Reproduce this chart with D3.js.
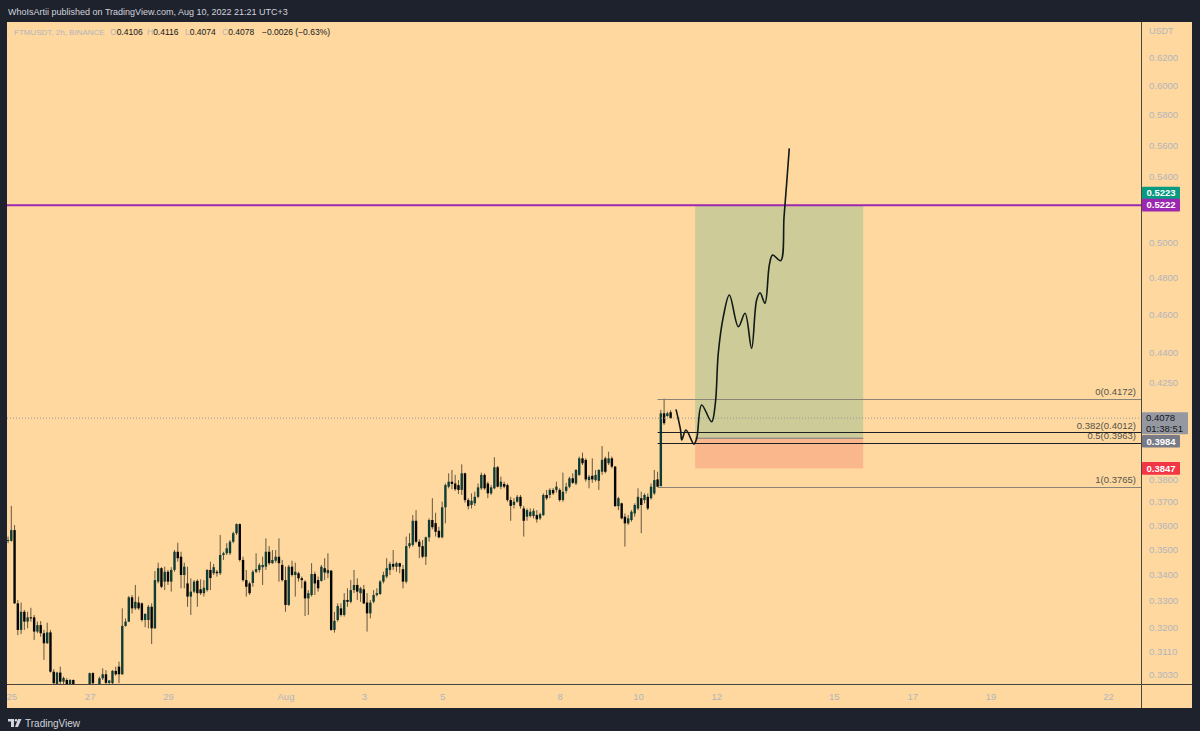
<!DOCTYPE html>
<html>
<head>
<meta charset="utf-8">
<script src="https://cdn.jsdelivr.net/npm/d3@7"></script>
<style>
  body { margin: 0; background: #1e222d; }
  svg { display: block; font-family: "Liberation Sans", Arial, sans-serif; }
</style>
</head>
<body>
<svg id="chart"></svg>
<script>
// FTMUSDT 2h candles, first bar Jul 24 22:00, one bar every 2 hours
const startTime = Date.UTC(2022, 6, 24, 22)
const barHours = 2
// [open, high, low, close]
const ohlc = [
  [.3540,.3554,.3527,.3540],[.3537,.3683,.3533,.3581],[.3581,.3602,.3287,.3289],[.3289,.3302,.3170,.3189],
  [.3189,.3292,.3174,.3257],[.3257,.3264,.3189,.3220],[.3220,.3257,.3195,.3236],[.3236,.3272,.3220,.3232],
  [.3236,.3245,.3152,.3183],[.3183,.3220,.3177,.3207],[.3207,.3222,.3164,.3177],[.3177,.3189,.3080,.3140],
  [.3140,.3216,.3138,.3180],[.3180,.3189,.3035,.3038],[.3038,.3047,.2974,.2998],[.2992,.3038,.2981,.3035],
  [.3035,.3056,.2988,.3003],[.3003,.3021,.2981,.3016],[.3009,.3015,.2974,.2995],[.2995,.3012,.2974,.3009],
  [.3009,.3011,.2967,.2988],[.2981,.2988,.2950,.2967],[.2967,.2978,.2940,.2957],[.2957,.2981,.2947,.2974],
  [.2974,.2992,.2960,.2988],[.2974,.3035,.2970,.3033],[.3033,.3036,.2981,.2998],[.2992,.2995,.2967,.2981],
  [.2981,.3021,.2974,.3015],[.3015,.3050,.3009,.3029],[.3029,.3044,.2988,.2999],[.2999,.3009,.2981,.3007],
  [.2998,.3044,.2992,.3041],[.3041,.3056,.3024,.3029],[.3056,.3074,.2998,.3029],[.3029,.3270,.3027,.3204],
  [.3204,.3232,.3201,.3220],[.3220,.3317,.3218,.3312],[.3312,.3321,.3251,.3270],[.3270,.3360,.3264,.3295],
  [.3292,.3315,.3264,.3270],[.3289,.3292,.3220,.3226],[.3226,.3251,.3199,.3249],[.3226,.3283,.3195,.3276],
  [.3276,.3289,.3137,.3195],[.3195,.3415,.3193,.3379],[.3373,.3448,.3366,.3426],[.3426,.3430,.3347,.3353],
  [.3373,.3432,.3340,.3412],[.3412,.3419,.3360,.3373],[.3373,.3430,.3334,.3419],[.3419,.3499,.3412,.3492],
  [.3492,.3529,.3452,.3466],[.3472,.3492,.3347,.3399],[.3399,.3448,.3347,.3432],[.3366,.3432,.3276,.3315],
  [.3315,.3386,.3245,.3334],[.3334,.3379,.3328,.3373],[.3376,.3382,.3276,.3328],[.3343,.3382,.3321,.3328],
  [.3328,.3379,.3315,.3349],[.3340,.3422,.3334,.3419],[.3419,.3452,.3340,.3387],[.3406,.3443,.3399,.3430],
  [.3412,.3419,.3393,.3406],[.3406,.3561,.3399,.3479],[.3479,.3492,.3459,.3486],[.3486,.3527,.3479,.3506],
  [.3486,.3540,.3479,.3533],[.3533,.3574,.3527,.3568],[.3568,.3609,.3561,.3606],[.3606,.3609,.3452,.3459],
  [.3459,.3472,.3373,.3379],[.3379,.3419,.3315,.3353],[.3366,.3373,.3321,.3328],[.3368,.3419,.3353,.3412],
  [.3412,.3486,.3406,.3422],[.3419,.3446,.3409,.3439],[.3430,.3472,.3360,.3439],[.3432,.3547,.3419,.3492],
  [.3492,.3515,.3439,.3446],[.3446,.3499,.3443,.3459],[.3456,.3499,.3448,.3472],[.3472,.3547,.3373,.3446],
  [.3439,.3459,.3373,.3379],[.3379,.3432,.3257,.3283],[.3283,.3439,.3279,.3432],[.3432,.3456,.3393,.3399],
  [.3399,.3448,.3315,.3412],[.3406,.3412,.3373,.3386],[.3386,.3393,.3347,.3379],[.3373,.3379,.3241,.3308],
  [.3308,.3340,.3245,.3328],[.3321,.3446,.3315,.3403],[.3403,.3412,.3321,.3366],[.3379,.3393,.3334,.3347],
  [.3376,.3439,.3373,.3432],[.3426,.3466,.3379,.3409],[.3406,.3486,.3386,.3419],[.3416,.3419,.3186,.3189],
  [.3189,.3257,.3179,.3223],[.3226,.3289,.3220,.3279],[.3270,.3289,.3239,.3245],[.3245,.3328,.3239,.3302],
  [.3302,.3347,.3276,.3295],[.3295,.3379,.3289,.3340],[.3340,.3419,.3328,.3360],[.3360,.3386,.3302,.3334],
  [.3328,.3353,.3295,.3347],[.3343,.3360,.3286,.3289],[.3292,.3328,.3183,.3251],[.3251,.3302,.3232,.3292],
  [.3295,.3340,.3289,.3321],[.3321,.3347,.3315,.3328],[.3325,.3379,.3321,.3373],[.3373,.3412,.3366,.3399],
  [.3393,.3466,.3386,.3426],[.3419,.3452,.3399,.3443],[.3443,.3499,.3419,.3432],[.3432,.3452,.3412,.3446],
  [.3446,.3448,.3406,.3432],[.3422,.3439,.3347,.3373],[.3373,.3554,.3366,.3515],[.3515,.3568,.3506,.3527],
  [.3520,.3644,.3513,.3620],[.3620,.3665,.3527,.3533],[.3533,.3543,.3466,.3513],[.3515,.3540,.3466,.3472],
  [.3472,.3554,.3439,.3551],[.3551,.3630,.3533,.3623],[.3623,.3716,.3584,.3593],[.3610,.3654,.3554,.3574],
  [.3578,.3595,.3547,.3551],[.3551,.3701,.3547,.3677],[.3677,.3780,.3609,.3773],[.3766,.3825,.3759,.3788],
  [.3788,.3840,.3755,.3778],[.3780,.3818,.3748,.3755],[.3773,.3795,.3734,.3752],[.3752,.3865,.3730,.3825],
  [.3825,.3828,.3697,.3708],[.3708,.3716,.3668,.3682],[.3687,.3737,.3672,.3705],[.3694,.3744,.3683,.3722],
  [.3722,.3780,.3716,.3763],[.3759,.3828,.3752,.3818],[.3818,.3825,.3752,.3759],[.3780,.3788,.3716,.3737],
  [.3737,.3773,.3730,.3763],[.3759,.3897,.3755,.3852],[.3852,.3858,.3763,.3766],[.3766,.3810,.3755,.3788],
  [.3778,.3788,.3759,.3766],[.3773,.3780,.3701,.3708],[.3708,.3722,.3620,.3683],[.3687,.3716,.3672,.3701],
  [.3701,.3730,.3697,.3722],[.3722,.3730,.3672,.3682],[.3672,.3683,.3554,.3620],[.3637,.3672,.3620,.3665],
  [.3640,.3672,.3634,.3658],[.3640,.3672,.3630,.3662],[.3644,.3665,.3612,.3626],[.3630,.3654,.3623,.3648],
  [.3644,.3737,.3640,.3730],[.3730,.3752,.3708,.3716],[.3730,.3759,.3716,.3752],[.3752,.3760,.3730,.3737],
  [.3752,.3788,.3740,.3766],[.3752,.3759,.3701,.3708],[.3708,.3828,.3701,.3744],[.3748,.3783,.3737,.3766],
  [.3766,.3810,.3759,.3803],[.3803,.3825,.3778,.3783],[.3780,.3843,.3773,.3840],[.3818,.3900,.3814,.3892],
  [.3892,.3918,.3862,.3870],[.3885,.3892,.3788,.3798],[.3795,.3818,.3759,.3810],[.3814,.3892,.3783,.3798],
  [.3795,.3840,.3788,.3818],[.3792,.3843,.3752,.3840],[.3832,.3948,.3818,.3885],[.3892,.3900,.3825,.3832],
  [.3870,.3922,.3862,.3892],[.3892,.3900,.3847,.3855],[.3855,.3858,.3679,.3682],[.3682,.3722,.3665,.3716],
  [.3694,.3697,.3626,.3630],[.3637,.3651,.3513,.3609],[.3609,.3644,.3602,.3630],[.3623,.3665,.3616,.3658],
  [.3651,.3694,.3637,.3687],[.3672,.3759,.3665,.3722],[.3716,.3744,.3568,.3687],[.3708,.3737,.3694,.3730],
  [.3722,.3737,.3665,.3672],[.3716,.3780,.3710,.3766],[.3737,.3840,.3730,.3795],[.3798,.3832,.3765,.3766],
  [.3768,.4117,.3770,.4101],[.4101,.4172,.4046,.4054],[.4088,.4109,.4085,.4101],[.4106,.4116,.4074,.4078]
]

// axes (ticks hidden behind the price labels are left out)
const timeTicks = ["2022-07-25","2022-07-27","2022-07-29","2022-08-01","2022-08-03","2022-08-05","2022-08-08",
  "2022-08-10","2022-08-12","2022-08-15","2022-08-17","2022-08-19","2022-08-22"]
const timeTickLabels = ["25","27","29","Aug","3","5","8","10","12","15","17","19","22"]
const priceTicks = [0.62,0.60,0.58,0.56,0.54,0.50,0.48,0.46,0.44,0.425,0.38,0.37,0.36,0.35,0.34,0.33,0.32,0.311,0.303]

// drawings
const resistance = 0.5222
const lastPrice = 0.4078
const fibStart = "2022-08-10T12:00:00Z"
const fibLevels = ["0", "0.382", "0.5", "1"]
const fibPrices = [0.4172, 0.4012, 0.3963, 0.3765]
const positionStart = "2022-08-11T11:00:00Z"
const positionEnd = "2022-08-15T18:00:00Z"
const entryPrice = 0.3984
const targetPrice = 0.5222
const stopPrice = 0.3847
// hand drawn projection: hours after Aug 10 00:00 and price
const pathHours = [23.3,26.1,26.8,29.4,34.3,36.0,39.0,45.1,47.4,49.2,52.3,56.0,61.5,65.6,69.6,72.7,74.8,77.8,80.5,82.5,87.4,89.5,91.1,92.7]
const pathPrices = [.4120,.4022,.3976,.4022,.3957,.3984,.4141,.4061,.4149,.4397,.4588,.4705,.4535,.4606,.4422,.4678,.4717,.4660,.4872,.4928,.4896,.5152,.5356,.5578]

const W = 1200, H = 731
const pane = {left: 7, top: 22, right: 1141, bottom: 684}
const axisRight = 1192, axisBottom = 708
const bg = "#fed89e"
const axisText = "#b2b5be"

const svg = d3.select("#chart").attr("width", W).attr("height", H)

const x = d3.scaleUtc().domain([new Date("2022-07-25T00:00:00Z"), new Date("2022-08-22T00:00:00Z")]).range([11.3, 1108])
const y = d3.scaleLog().domain([0.303, 0.62]).range([674, 57.3])

// chart background
svg.append("rect").attr("x", pane.left).attr("y", pane.top)
  .attr("width", axisRight - pane.left).attr("height", axisBottom - pane.top).attr("fill", bg)

const defs = svg.append("defs")
defs.append("clipPath").attr("id", "pane-clip").append("rect")
  .attr("x", pane.left).attr("y", pane.top).attr("width", pane.right - pane.left).attr("height", pane.bottom - pane.top)
defs.append("clipPath").attr("id", "time-clip").append("rect")
  .attr("x", pane.left).attr("y", pane.bottom).attr("width", pane.right - pane.left).attr("height", axisBottom - pane.bottom)

const plot = svg.append("g").attr("clip-path", "url(#pane-clip)")

// long position tool
const px0 = x(new Date(positionStart)), px1 = x(new Date(positionEnd))
plot.append("rect").attr("x", px0).attr("width", px1 - px0)
  .attr("y", y(targetPrice)).attr("height", y(entryPrice) - y(targetPrice))
  .attr("fill", "rgba(8,153,129,0.2)")
plot.append("rect").attr("x", px0).attr("width", px1 - px0)
  .attr("y", y(entryPrice)).attr("height", y(stopPrice) - y(entryPrice))
  .attr("fill", "rgba(242,54,69,0.2)")
plot.append("line").attr("x1", px0).attr("x2", px1)
  .attr("y1", y(entryPrice)).attr("y2", y(entryPrice))
  .attr("stroke", "#787b86").attr("stroke-width", 1)

// candles
const bars = ohlc.map((d, i) => ({t: new Date(startTime + i * barHours * 3600e3), o: d[0], h: d[1], l: d[2], c: d[3]}))
plot.selectAll(".wick").data(bars).join("line").attr("class", "wick")
  .attr("x1", d => x(d.t)).attr("x2", d => x(d.t))
  .attr("y1", d => y(d.h)).attr("y2", d => y(d.l))
  .attr("stroke", "rgba(0,0,0,0.6)").attr("stroke-width", 1)
plot.selectAll(".body").data(bars).join("rect").attr("class", "body")
  .attr("x", d => x(d.t) - 1.2).attr("width", 2.4)
  .attr("y", d => y(Math.max(d.o, d.c)))
  .attr("height", d => Math.max(1, Math.abs(y(d.o) - y(d.c))))
  .attr("fill", d => d.c >= d.o ? "#0f3d36" : "#050505")

// last price dotted line
plot.append("line").attr("x1", pane.left).attr("x2", pane.right)
  .attr("y1", y(lastPrice)).attr("y2", y(lastPrice))
  .attr("stroke", "#9598a1").attr("stroke-dasharray", "1,2")

// resistance line
plot.append("line").attr("x1", pane.left).attr("x2", pane.right)
  .attr("y1", y(resistance)).attr("y2", y(resistance))
  .attr("stroke", "#9c27b0").attr("stroke-width", 2)

// fibonacci retracement
const fx = x(new Date(fibStart))
const fibColors = ["#8a8478", "#1c1f26", "#1c1f26", "#8a8478"]
fibPrices.forEach((p, i) => {
  plot.append("line").attr("x1", fx).attr("x2", pane.right)
    .attr("y1", Math.round(y(p)) + 0.5).attr("y2", Math.round(y(p)) + 0.5)
    .attr("stroke", fibColors[i]).attr("stroke-width", 1)
  plot.append("text").attr("x", 1136).attr("y", y(p) - 3.5)
    .attr("text-anchor", "end").attr("font-size", 9.5).attr("fill", "#55534d")
    .text(`${fibLevels[i]}(${p.toFixed(4)})`)
})

// projection drawing
const proj = pathHours.map((h, i) => [x(new Date(Date.UTC(2022, 7, 10) + h * 3600e3)), y(pathPrices[i])])
plot.append("path").attr("d", d3.line().curve(d3.curveCatmullRom.alpha(0.5))(proj))
  .attr("fill", "none").attr("stroke", "#101a16").attr("stroke-width", 1.6)

// separators
svg.append("line").attr("x1", pane.right + 0.5).attr("x2", pane.right + 0.5).attr("y1", pane.top).attr("y2", axisBottom)
  .attr("stroke", "#4a473f")
svg.append("line").attr("x1", pane.left).attr("x2", axisRight).attr("y1", pane.bottom + 0.5).attr("y2", pane.bottom + 0.5)
  .attr("stroke", "#4a473f")

// price axis
const yAxis = svg.append("g").attr("transform", `translate(${pane.right + 2},0)`)
  .call(d3.axisRight(y).tickValues(priceTicks).tickFormat(d3.format(".4f")).tickSize(0).tickPadding(6))
yAxis.select(".domain").remove()
yAxis.selectAll("text").attr("font-size", 9.5).attr("fill", axisText).attr("font-family", "Liberation Sans, Arial, sans-serif")
svg.append("text").attr("x", pane.right + 8).attr("y", 34).attr("font-size", 9).attr("fill", axisText).text("USDT")

// time axis
const xAxis = svg.append("g").attr("clip-path", "url(#time-clip)").append("g")
  .attr("transform", `translate(0,${pane.bottom})`)
  .call(d3.axisBottom(x).tickValues(timeTicks.map(d => new Date(d + "T00:00:00Z")))
    .tickFormat((d, i) => timeTickLabels[i]).tickSize(0).tickPadding(9))
xAxis.select(".domain").remove()
xAxis.selectAll("text").attr("font-size", 9.5).attr("fill", axisText).attr("font-family", "Liberation Sans, Arial, sans-serif")

// price labels on the axis
const axisLabels = [
  {price: 0.5223, text: "0.5223", fill: "#089981", color: "#fff", shift: -12},
  {price: resistance, text: "0.5222", fill: "#9c27b0", color: "#fff", shift: 0},
  {price: entryPrice, text: "0.3984", fill: "#787b86", color: "#fff", shift: 3},
  {price: stopPrice, text: "0.3847", fill: "#f23645", color: "#fff", shift: 0}
]
axisLabels.forEach(d => {
  const cy = y(d.price) + d.shift
  svg.append("rect").attr("x", pane.right + 1).attr("y", cy - 6.3).attr("width", 38).attr("height", 12.6)
    .attr("rx", 1).attr("fill", d.fill)
  svg.append("text").attr("x", pane.right + 20).attr("y", cy + 3.3).attr("text-anchor", "middle")
    .attr("font-size", 9.5).attr("font-weight", "bold").attr("fill", d.color).text(d.text)
})
// last price with countdown
const ly = y(lastPrice)
svg.append("rect").attr("x", pane.right + 1).attr("y", ly - 6).attr("width", 46).attr("height", 22)
  .attr("rx", 1).attr("fill", "#9598a1")
svg.append("text").attr("x", pane.right + 5).attr("y", ly + 3.3).attr("font-size", 9.5).attr("fill", "#131722").text(lastPrice.toFixed(4))
svg.append("text").attr("x", pane.right + 5).attr("y", ly + 13.5).attr("font-size", 9.5).attr("fill", "#131722").text("01:38:51")

// header
svg.append("text").attr("x", 8).attr("y", 14.5).attr("font-size", 9).attr("fill", "#d1d4dc")
  .text("WhoIsArtii published on TradingView.com, Aug 10, 2022 21:21 UTC+3")

// legend
const last = ohlc[ohlc.length - 1]
const legendY = 35.3
svg.append("text").attr("x", 14).attr("y", legendY).attr("font-size", 8).attr("fill", axisText)
  .text("FTMUSDT, 2h, BINANCE")
const legendKeys = ["O", "H", "L", "C"]
const keyX = [110, 147, 185, 222]
legendKeys.forEach((k, i) => {
  const t = svg.append("text").attr("x", keyX[i]).attr("y", legendY).attr("font-size", 8.5)
  t.append("tspan").attr("fill", axisText).text(k)
  t.append("tspan").attr("fill", "#131722").text(last[i].toFixed(4))
})
svg.append("text").attr("x", 262).attr("y", legendY).attr("font-size", 8.5).attr("fill", "#131722")
  .text("\u22120.0026 (\u22120.63%)")

// footer logo
const logo = svg.append("g").attr("fill", "#d1d4dc")
logo.append("path").attr("d", "M8,719 h6 v8 h-3 v-5.5 h-3 z")
logo.append("circle").attr("cx", 16).attr("cy", 720.3).attr("r", 1.3)
logo.append("path").attr("d", "M18,719 h3.5 l-3.5,8 h-3 z")
svg.append("text").attr("x", 25).attr("y", 726.5).attr("font-size", 10).attr("fill", "#d1d4dc").text("TradingView")
</script>
</body>
</html>
